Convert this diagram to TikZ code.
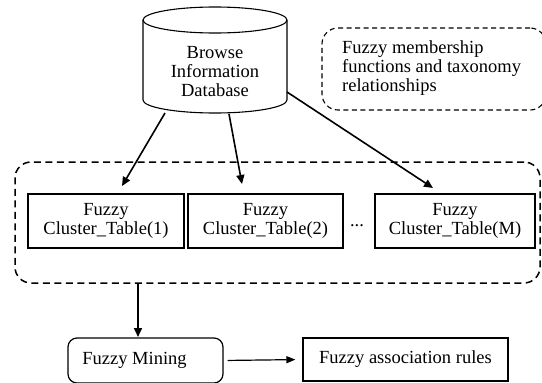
\documentclass[tikz,border=0pt]{standalone}
\usepackage{fontspec}
\setmainfont{Liberation Serif}
\usetikzlibrary{arrows.meta,calc}
\begin{document}
\begin{tikzpicture}[x=1pt,y=-1pt,
  font=\fontsize{18.5}{19}\selectfont,
  arr/.style={line width=1.6pt,-{Triangle[length=9pt,width=8pt]}},
  tbl/.style={draw,line width=1.2pt,align=center,inner sep=0pt},
  dashbox/.style={draw,line width=1.5pt,dash pattern=on 7pt off 4.5pt},
]
\useasboundingbox (0,0) rectangle (542,383);
% database cylinder
\draw[line width=1.1pt] (143,20) -- (143,100) arc[start angle=180,end angle=360,x radius=72pt,y radius=13pt] -- (287,20);
\draw[line width=1.1pt] (215,20) ellipse[x radius=72pt,y radius=13pt];
\node[align=center,inner sep=0pt] (db) at (215,72) {Browse\\Information\\Database};
% note box
\node[dashbox,rounded corners=16pt,line width=1.1pt,dash pattern=on 5pt off 3.5pt,minimum width=224pt,minimum height=82pt] (note) at (434,69) {};
\node[align=left,anchor=west,inner sep=0pt] (notetext) at (342,68) {Fuzzy membership\\functions and taxonomy\\relationships};
% group box
\node[dashbox,rounded corners=16pt,minimum width=525pt,minimum height=121pt] (grp) at (277.5,222.5) {};
\node[tbl,minimum width=156pt,minimum height=54pt] (b1) at (106,221) {Fuzzy\\Cluster\_Table(1)};
\node[tbl,minimum width=155pt,minimum height=54pt] (b2) at (265.5,221) {Fuzzy\\Cluster\_Table(2)};
\node[tbl,minimum width=160pt,minimum height=54pt] (b3) at (455,221) {Fuzzy\\Cluster\_Table(M)};
\node[inner sep=0pt] (dots) at (357,226) {...};
% arrows from database
\coordinate (s1) at (165,113);
\coordinate (s2) at (229,114);
\coordinate (s3) at (287,92);
\coordinate (t1) at (122,186);
\coordinate (t2) at (242,184);
\coordinate (t3) at (433,188);
\draw[arr] (s1) -- (t1);
\draw[arr] (s2) -- (t2);
\draw[arr] (s3) -- (t3);
% bottom
\node[draw,line width=1.2pt,rounded corners=9pt,minimum width=155pt,minimum height=45pt,inner sep=0pt] (mine) at (145.5,360.5) {};
\node[inner sep=0pt] (minetext) at (134.5,360) {Fuzzy Mining};
\node[tbl,minimum width=205pt,minimum height=43pt] (rules) at (405.5,359.5) {Fuzzy association rules};
\coordinate (mtop) at (138,337);
\draw[arr] (grp.south -| mtop) -- (mtop);
\draw[line width=1.2pt,-{Triangle[length=9pt,width=7pt]},shorten <=4pt,shorten >=7pt] (mine.east) -- (rules.west);
\end{tikzpicture}
\end{document}
